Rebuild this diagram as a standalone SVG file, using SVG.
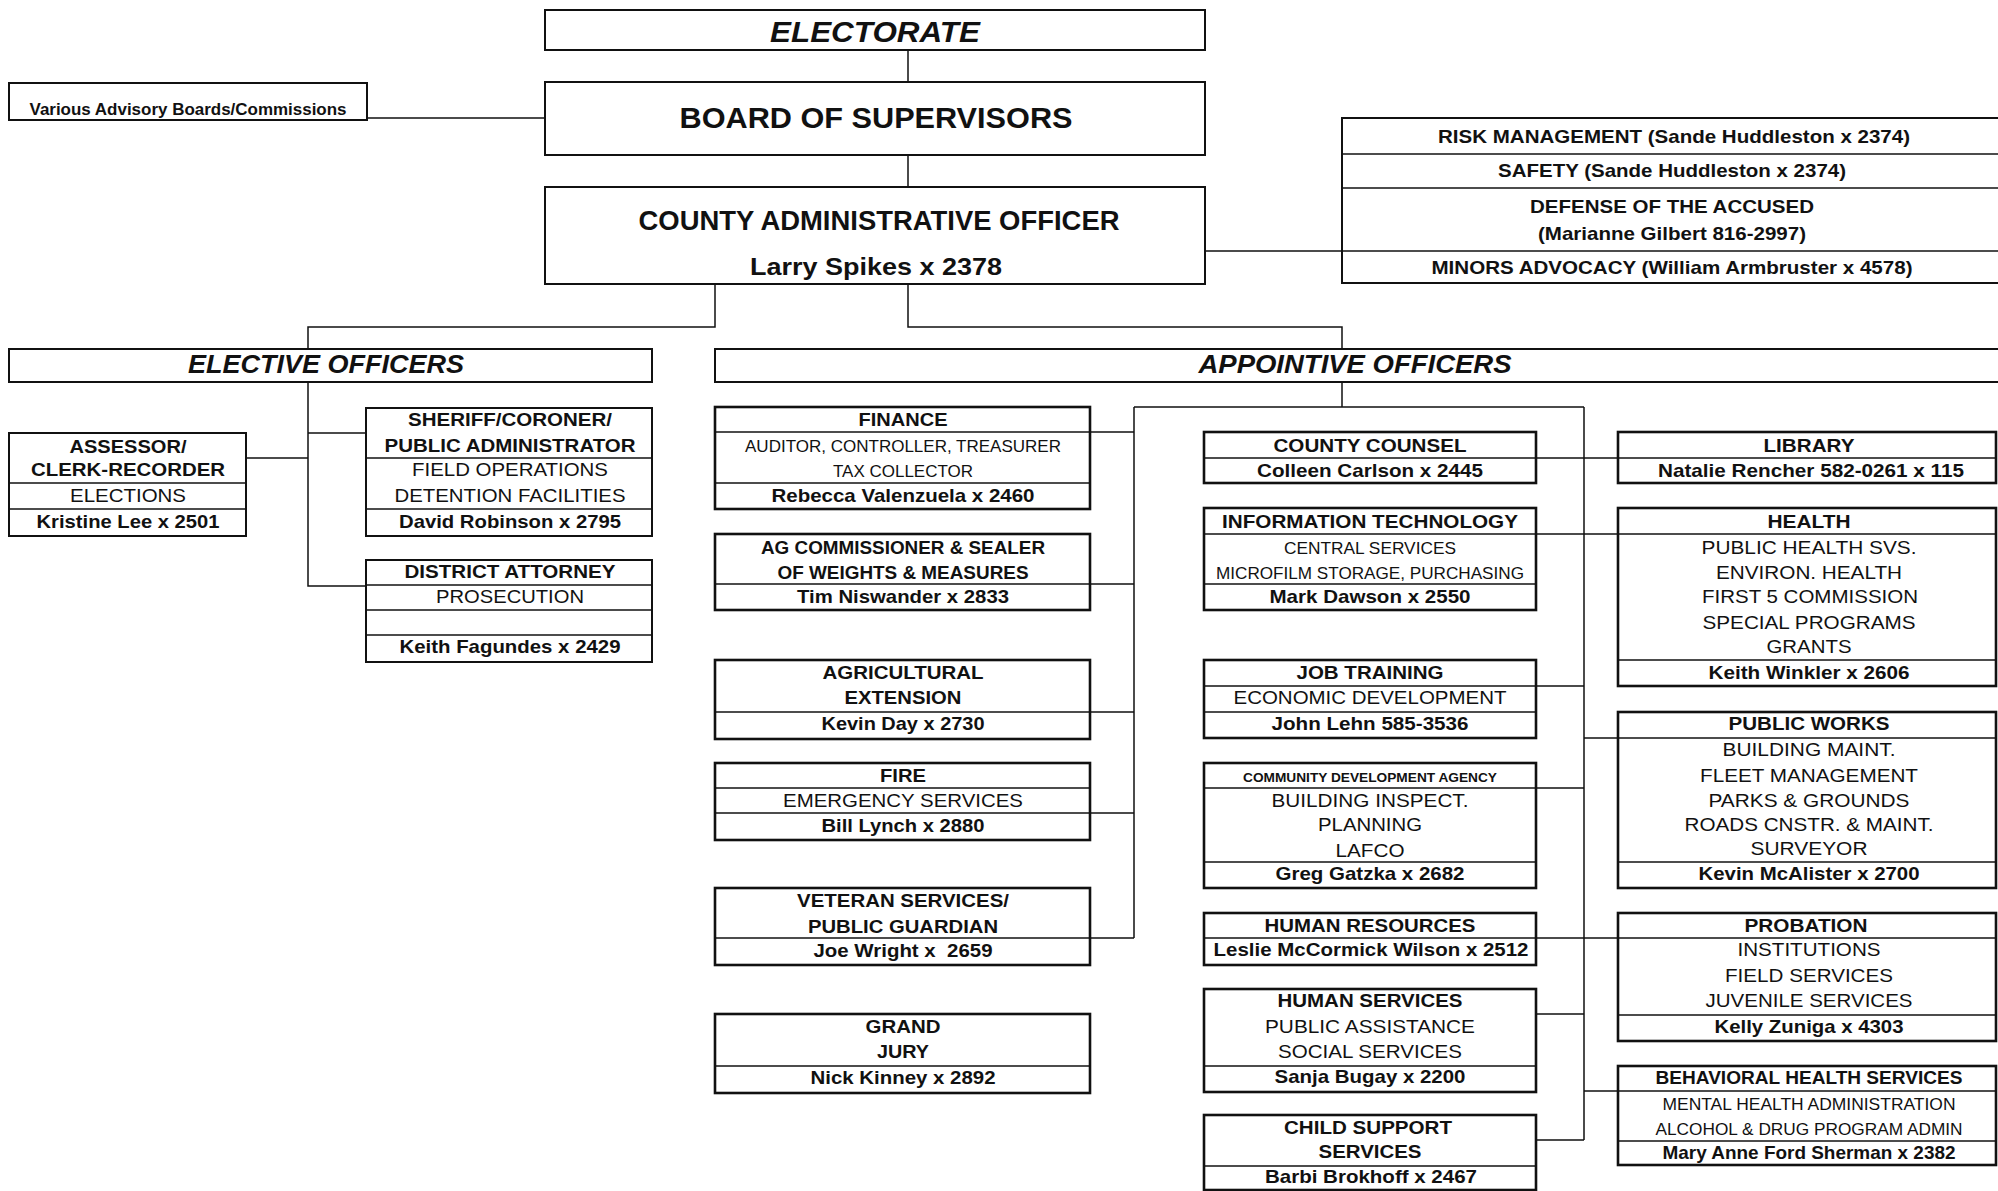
<svg xmlns="http://www.w3.org/2000/svg" width="1998" height="1191" viewBox="0 0 1998 1191">
<style>
text{font-family:"Liberation Sans",Arial,sans-serif;text-anchor:middle;fill:#111}
.b{font-weight:bold;font-size:19px}
.r{font-size:19px}
.s{font-size:16.5px}
.xs{font-weight:bold;font-size:13px}
.bi{font-weight:bold;font-style:italic}
.box{fill:#fff;stroke:#111;stroke-width:2}
.ub{fill:#fff;stroke:#111;stroke-width:2.6}
.dv{stroke:#111;stroke-width:1.5}
.cn{fill:none;stroke:#111;stroke-width:1.5}
</style>
<rect width="1998" height="1191" fill="#fff"/>
<g id="connectors" class="cn">
<path d="M908 50V82M367 118H545M908 155V187M1205 251H1342"/>
<path d="M715 284V327H308V349M908 284V327H1342V349"/>
<path d="M308 382V586H366M245 458H308M308 433H366"/>
<path d="M1342 382V407M1134 407H1584M1134 407V938M1584 407V1140"/>
<path d="M1090 432H1134M1090 584H1134M1090 712H1134M1090 813H1134M1090 938H1134"/>
<path d="M1536 458H1618M1536 534H1618M1536 686H1584M1584 738H1618M1536 788H1584M1536 938H1618M1536 1014H1584M1584 1091H1618M1536 1140H1584"/>
</g>
<g id="electorate"><rect class="box" x="545" y="10" width="660" height="40"/><text class="bi" font-size="29" x="875" y="42" textLength="210" lengthAdjust="spacingAndGlyphs">ELECTORATE</text></g>
<g id="board"><rect class="box" x="545" y="82" width="660" height="73"/><text class="b" style="font-size:29px" x="876" y="128" textLength="393" lengthAdjust="spacingAndGlyphs">BOARD OF SUPERVISORS</text></g>
<g id="advisory"><rect class="box" x="9" y="83" width="358" height="37"/><text class="b" style="font-size:16px" x="188" y="115" textLength="317" lengthAdjust="spacingAndGlyphs">Various Advisory Boards/Commissions</text></g>
<g id="cao"><rect class="box" x="545" y="187" width="660" height="97"/><text class="b" style="font-size:27px" x="879" y="230" textLength="481" lengthAdjust="spacingAndGlyphs">COUNTY ADMINISTRATIVE OFFICER</text><text class="b" style="font-size:24px" x="876" y="275" textLength="252" lengthAdjust="spacingAndGlyphs">Larry Spikes x 2378</text></g>
<g id="cao-staff"><rect class="box" x="1342" y="118" width="662" height="165"/><line class="dv" x1="1342" y1="154" x2="2004" y2="154"/><line class="dv" x1="1342" y1="188" x2="2004" y2="188"/><line class="dv" x1="1342" y1="251" x2="2004" y2="251"/>
<text class="b" x="1674" y="143" textLength="472" lengthAdjust="spacingAndGlyphs">RISK MANAGEMENT (Sande Huddleston x 2374)</text>
<text class="b" x="1672" y="177" textLength="348" lengthAdjust="spacingAndGlyphs">SAFETY (Sande Huddleston x 2374)</text>
<text class="b" x="1672" y="213" textLength="284" lengthAdjust="spacingAndGlyphs">DEFENSE OF THE ACCUSED</text>
<text class="b" x="1672" y="240" textLength="268" lengthAdjust="spacingAndGlyphs">(Marianne Gilbert 816-2997)</text>
<text class="b" x="1672" y="274" textLength="481" lengthAdjust="spacingAndGlyphs">MINORS ADVOCACY (William Armbruster x 4578)</text></g>
<g id="elective"><rect class="box" x="9" y="349" width="643" height="33"/><text class="bi" font-size="25" x="326" y="373" textLength="276" lengthAdjust="spacingAndGlyphs">ELECTIVE OFFICERS</text></g>
<g id="appointive"><rect class="box" x="715" y="349" width="1289" height="33"/><text class="bi" font-size="25" x="1355" y="373" textLength="313" lengthAdjust="spacingAndGlyphs">APPOINTIVE OFFICERS</text></g>
<g id="assessor"><rect class="box" x="9" y="433" width="237" height="103"/><line class="dv" x1="9" y1="483" x2="246" y2="483"/><line class="dv" x1="9" y1="509" x2="246" y2="509"/>
<text class="b" x="128" y="453" textLength="117" lengthAdjust="spacingAndGlyphs">ASSESSOR/</text>
<text class="b" x="128" y="476" textLength="194" lengthAdjust="spacingAndGlyphs">CLERK-RECORDER</text>
<text class="r" x="128" y="502" textLength="116" lengthAdjust="spacingAndGlyphs">ELECTIONS</text>
<text class="b" x="128" y="528" textLength="183" lengthAdjust="spacingAndGlyphs">Kristine Lee x 2501</text></g>
<g id="sheriff"><rect class="box" x="366" y="408" width="286" height="128"/><line class="dv" x1="366" y1="458" x2="652" y2="458"/><line class="dv" x1="366" y1="509" x2="652" y2="509"/>
<text class="b" x="510" y="426" textLength="204" lengthAdjust="spacingAndGlyphs">SHERIFF/CORONER/</text>
<text class="b" x="510" y="452" textLength="251" lengthAdjust="spacingAndGlyphs">PUBLIC ADMINISTRATOR</text>
<text class="r" x="510" y="476" textLength="196" lengthAdjust="spacingAndGlyphs">FIELD OPERATIONS</text>
<text class="r" x="510" y="502" textLength="231" lengthAdjust="spacingAndGlyphs">DETENTION FACILITIES</text>
<text class="b" x="510" y="528" textLength="222" lengthAdjust="spacingAndGlyphs">David Robinson x 2795</text></g>
<g id="da"><rect class="box" x="366" y="560" width="286" height="102"/><line class="dv" x1="366" y1="585" x2="652" y2="585"/><line class="dv" x1="366" y1="610" x2="652" y2="610"/><line class="dv" x1="366" y1="635" x2="652" y2="635"/>
<text class="b" x="510" y="578" textLength="211" lengthAdjust="spacingAndGlyphs">DISTRICT ATTORNEY</text>
<text class="r" x="510" y="603" textLength="148" lengthAdjust="spacingAndGlyphs">PROSECUTION</text>
<text class="b" x="510" y="653" textLength="221" lengthAdjust="spacingAndGlyphs">Keith Fagundes x 2429</text></g>
<g id="finance"><rect class="ub" x="715" y="407" width="375" height="102"/><line class="dv" x1="715" y1="432" x2="1090" y2="432"/><line class="dv" x1="715" y1="483" x2="1090" y2="483"/>
<text class="b" x="903" y="426" textLength="89" lengthAdjust="spacingAndGlyphs">FINANCE</text>
<text class="s" x="903" y="452" textLength="316" lengthAdjust="spacingAndGlyphs">AUDITOR, CONTROLLER, TREASURER</text>
<text class="s" x="903" y="477" textLength="140" lengthAdjust="spacingAndGlyphs">TAX COLLECTOR</text>
<text class="b" x="903" y="502" textLength="263" lengthAdjust="spacingAndGlyphs">Rebecca Valenzuela x 2460</text></g>
<g id="ag-commissioner"><rect class="ub" x="715" y="534" width="375" height="76"/><line class="dv" x1="715" y1="584" x2="1090" y2="584"/>
<text class="b" x="903" y="554" textLength="284" lengthAdjust="spacingAndGlyphs">AG COMMISSIONER &amp; SEALER</text>
<text class="b" x="903" y="579" textLength="251" lengthAdjust="spacingAndGlyphs">OF WEIGHTS &amp; MEASURES</text>
<text class="b" x="903" y="603" textLength="212" lengthAdjust="spacingAndGlyphs">Tim Niswander x 2833</text></g>
<g id="agricultural-extension"><rect class="ub" x="715" y="660" width="375" height="79"/><line class="dv" x1="715" y1="712" x2="1090" y2="712"/>
<text class="b" x="903" y="679" textLength="161" lengthAdjust="spacingAndGlyphs">AGRICULTURAL</text>
<text class="b" x="903" y="704" textLength="117" lengthAdjust="spacingAndGlyphs">EXTENSION</text>
<text class="b" x="903" y="730" textLength="163" lengthAdjust="spacingAndGlyphs">Kevin Day x 2730</text></g>
<g id="fire"><rect class="ub" x="715" y="763" width="375" height="77"/><line class="dv" x1="715" y1="788" x2="1090" y2="788"/><line class="dv" x1="715" y1="813" x2="1090" y2="813"/>
<text class="b" x="903" y="782" textLength="46" lengthAdjust="spacingAndGlyphs">FIRE</text>
<text class="r" x="903" y="807" textLength="240" lengthAdjust="spacingAndGlyphs">EMERGENCY SERVICES</text>
<text class="b" x="903" y="832" textLength="163" lengthAdjust="spacingAndGlyphs">Bill Lynch x 2880</text></g>
<g id="veteran-services"><rect class="ub" x="715" y="888" width="375" height="77"/><line class="dv" x1="715" y1="938" x2="1090" y2="938"/>
<text class="b" x="903" y="907" textLength="212" lengthAdjust="spacingAndGlyphs">VETERAN SERVICES/</text>
<text class="b" x="903" y="933" textLength="190" lengthAdjust="spacingAndGlyphs">PUBLIC GUARDIAN</text>
<text class="b" x="903" y="957" textLength="179" lengthAdjust="spacingAndGlyphs" xml:space="preserve">Joe Wright x  2659</text></g>
<g id="grand-jury"><rect class="ub" x="715" y="1014" width="375" height="79"/><line class="dv" x1="715" y1="1066" x2="1090" y2="1066"/>
<text class="b" x="903" y="1033" textLength="75" lengthAdjust="spacingAndGlyphs">GRAND</text>
<text class="b" x="903" y="1058" textLength="52" lengthAdjust="spacingAndGlyphs">JURY</text>
<text class="b" x="903" y="1084" textLength="185" lengthAdjust="spacingAndGlyphs">Nick Kinney x 2892</text></g>
<g id="county-counsel"><rect class="ub" x="1204" y="432" width="332" height="51"/><line class="dv" x1="1204" y1="458" x2="1536" y2="458"/>
<text class="b" x="1370" y="452" textLength="193" lengthAdjust="spacingAndGlyphs">COUNTY COUNSEL</text>
<text class="b" x="1370" y="477" textLength="226" lengthAdjust="spacingAndGlyphs">Colleen Carlson x 2445</text></g>
<g id="information-technology"><rect class="ub" x="1204" y="508" width="332" height="102"/><line class="dv" x1="1204" y1="534" x2="1536" y2="534"/><line class="dv" x1="1204" y1="584" x2="1536" y2="584"/>
<text class="b" x="1370" y="528" textLength="296" lengthAdjust="spacingAndGlyphs">INFORMATION TECHNOLOGY</text>
<text class="s" x="1370" y="554" textLength="172" lengthAdjust="spacingAndGlyphs">CENTRAL SERVICES</text>
<text class="s" x="1370" y="579" textLength="308" lengthAdjust="spacingAndGlyphs">MICROFILM STORAGE, PURCHASING</text>
<text class="b" x="1370" y="603" textLength="201" lengthAdjust="spacingAndGlyphs">Mark Dawson x 2550</text></g>
<g id="job-training"><rect class="ub" x="1204" y="660" width="332" height="78"/><line class="dv" x1="1204" y1="686" x2="1536" y2="686"/><line class="dv" x1="1204" y1="712" x2="1536" y2="712"/>
<text class="b" x="1370" y="679" textLength="147" lengthAdjust="spacingAndGlyphs">JOB TRAINING</text>
<text class="r" x="1370" y="704" textLength="273" lengthAdjust="spacingAndGlyphs">ECONOMIC DEVELOPMENT</text>
<text class="b" x="1370" y="730" textLength="197" lengthAdjust="spacingAndGlyphs">John Lehn 585-3536</text></g>
<g id="community-development"><rect class="ub" x="1204" y="763" width="332" height="125"/><line class="dv" x1="1204" y1="788" x2="1536" y2="788"/><line class="dv" x1="1204" y1="862" x2="1536" y2="862"/>
<text class="xs" x="1370" y="782" textLength="254" lengthAdjust="spacingAndGlyphs">COMMUNITY DEVELOPMENT AGENCY</text>
<text class="r" x="1370" y="807" textLength="197" lengthAdjust="spacingAndGlyphs">BUILDING INSPECT.</text>
<text class="r" x="1370" y="831" textLength="104" lengthAdjust="spacingAndGlyphs">PLANNING</text>
<text class="r" x="1370" y="857" textLength="69" lengthAdjust="spacingAndGlyphs">LAFCO</text>
<text class="b" x="1370" y="880" textLength="189" lengthAdjust="spacingAndGlyphs">Greg Gatzka x 2682</text></g>
<g id="human-resources"><rect class="ub" x="1204" y="913" width="332" height="52"/><line class="dv" x1="1204" y1="938" x2="1536" y2="938"/>
<text class="b" x="1370" y="932" textLength="211" lengthAdjust="spacingAndGlyphs">HUMAN RESOURCES</text>
<text class="b" x="1371" y="956" textLength="315" lengthAdjust="spacingAndGlyphs">Leslie McCormick Wilson x 2512</text></g>
<g id="human-services"><rect class="ub" x="1204" y="989" width="332" height="103"/><line class="dv" x1="1204" y1="1066" x2="1536" y2="1066"/>
<text class="b" x="1370" y="1007" textLength="185" lengthAdjust="spacingAndGlyphs">HUMAN SERVICES</text>
<text class="r" x="1370" y="1033" textLength="210" lengthAdjust="spacingAndGlyphs">PUBLIC ASSISTANCE</text>
<text class="r" x="1370" y="1058" textLength="184" lengthAdjust="spacingAndGlyphs">SOCIAL SERVICES</text>
<text class="b" x="1370" y="1083" textLength="191" lengthAdjust="spacingAndGlyphs">Sanja Bugay x 2200</text></g>
<g id="child-support"><rect class="ub" x="1204" y="1115" width="332" height="75"/><line class="dv" x1="1204" y1="1166" x2="1536" y2="1166"/>
<text class="b" x="1368" y="1134" textLength="168" lengthAdjust="spacingAndGlyphs">CHILD SUPPORT</text>
<text class="b" x="1370" y="1158" textLength="103" lengthAdjust="spacingAndGlyphs">SERVICES</text>
<text class="b" x="1371" y="1183" textLength="212" lengthAdjust="spacingAndGlyphs">Barbi Brokhoff x 2467</text></g>
<g id="library"><rect class="ub" x="1618" y="432" width="378" height="51"/><line class="dv" x1="1618" y1="458" x2="1996" y2="458"/>
<text class="b" x="1809" y="452" textLength="91" lengthAdjust="spacingAndGlyphs">LIBRARY</text>
<text class="b" x="1811" y="477" textLength="306" lengthAdjust="spacingAndGlyphs">Natalie Rencher 582-0261 x 115</text></g>
<g id="health"><rect class="ub" x="1618" y="508" width="378" height="178"/><line class="dv" x1="1618" y1="534" x2="1996" y2="534"/><line class="dv" x1="1618" y1="660" x2="1996" y2="660"/>
<text class="b" x="1809" y="528" textLength="83" lengthAdjust="spacingAndGlyphs">HEALTH</text>
<text class="r" x="1809" y="554" textLength="215" lengthAdjust="spacingAndGlyphs">PUBLIC HEALTH SVS.</text>
<text class="r" x="1809" y="579" textLength="186" lengthAdjust="spacingAndGlyphs">ENVIRON. HEALTH</text>
<text class="r" x="1810" y="603" textLength="216" lengthAdjust="spacingAndGlyphs">FIRST 5 COMMISSION</text>
<text class="r" x="1809" y="629" textLength="213" lengthAdjust="spacingAndGlyphs">SPECIAL PROGRAMS</text>
<text class="r" x="1809" y="653" textLength="85" lengthAdjust="spacingAndGlyphs">GRANTS</text>
<text class="b" x="1809" y="679" textLength="201" lengthAdjust="spacingAndGlyphs">Keith Winkler x 2606</text></g>
<g id="public-works"><rect class="ub" x="1618" y="712" width="378" height="176"/><line class="dv" x1="1618" y1="738" x2="1996" y2="738"/><line class="dv" x1="1618" y1="862" x2="1996" y2="862"/>
<text class="b" x="1809" y="730" textLength="161" lengthAdjust="spacingAndGlyphs">PUBLIC WORKS</text>
<text class="r" x="1809" y="756" textLength="173" lengthAdjust="spacingAndGlyphs">BUILDING MAINT.</text>
<text class="r" x="1809" y="782" textLength="218" lengthAdjust="spacingAndGlyphs">FLEET MANAGEMENT</text>
<text class="r" x="1809" y="807" textLength="201" lengthAdjust="spacingAndGlyphs">PARKS &amp; GROUNDS</text>
<text class="r" x="1809" y="831" textLength="249" lengthAdjust="spacingAndGlyphs">ROADS CNSTR. &amp; MAINT.</text>
<text class="r" x="1809" y="855" textLength="117" lengthAdjust="spacingAndGlyphs">SURVEYOR</text>
<text class="b" x="1809" y="880" textLength="221" lengthAdjust="spacingAndGlyphs">Kevin McAlister x 2700</text></g>
<g id="probation"><rect class="ub" x="1618" y="913" width="378" height="128"/><line class="dv" x1="1618" y1="938" x2="1996" y2="938"/><line class="dv" x1="1618" y1="1015" x2="1996" y2="1015"/>
<text class="b" x="1806" y="932" textLength="123" lengthAdjust="spacingAndGlyphs">PROBATION</text>
<text class="r" x="1809" y="956" textLength="143" lengthAdjust="spacingAndGlyphs">INSTITUTIONS</text>
<text class="r" x="1809" y="982" textLength="168" lengthAdjust="spacingAndGlyphs">FIELD SERVICES</text>
<text class="r" x="1809" y="1007" textLength="207" lengthAdjust="spacingAndGlyphs">JUVENILE SERVICES</text>
<text class="b" x="1809" y="1033" textLength="189" lengthAdjust="spacingAndGlyphs">Kelly Zuniga x 4303</text></g>
<g id="behavioral-health"><rect class="ub" x="1618" y="1066" width="378" height="99"/><line class="dv" x1="1618" y1="1091" x2="1996" y2="1091"/><line class="dv" x1="1618" y1="1141" x2="1996" y2="1141"/>
<text class="b" x="1809" y="1084" textLength="307" lengthAdjust="spacingAndGlyphs">BEHAVIORAL HEALTH SERVICES</text>
<text class="s" x="1809" y="1110" textLength="293" lengthAdjust="spacingAndGlyphs">MENTAL HEALTH ADMINISTRATION</text>
<text class="s" x="1809" y="1135" textLength="307" lengthAdjust="spacingAndGlyphs">ALCOHOL &amp; DRUG PROGRAM ADMIN</text>
<text class="b" x="1809" y="1159" textLength="293" lengthAdjust="spacingAndGlyphs">Mary Anne Ford Sherman x 2382</text></g>
</svg>
